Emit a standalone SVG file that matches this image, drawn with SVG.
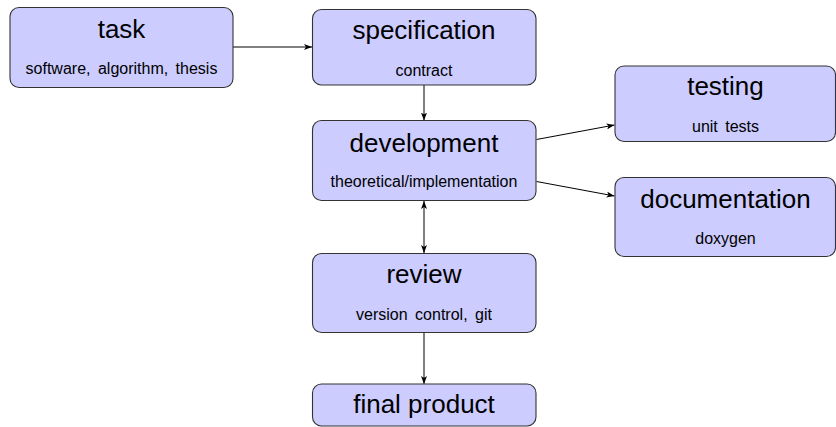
<svg xmlns="http://www.w3.org/2000/svg" width="836" height="427" viewBox="0 0 836 427">
<style>
.box{fill:#ccccff;stroke:#333333;stroke-width:1.1}
.t{font-family:"Liberation Sans",Arial,sans-serif;font-size:26px;fill:#000;text-anchor:middle}
.s{font-family:"Liberation Sans",Arial,sans-serif;font-size:16px;fill:#000;text-anchor:middle;word-spacing:3px}
.c{stroke:#000;stroke-width:1;fill:none}
</style>
<defs>
<marker id="ah" viewBox="0 0 8 6" refX="8" refY="3" markerWidth="8" markerHeight="6" markerUnits="userSpaceOnUse" orient="auto-start-reverse">
<path d="M0,0 L8,3 L0,6 L2,3 z" fill="#000"/>
</marker>
</defs>
<rect width="836" height="427" fill="#fff"/>
<g id="connectors">
<line class="c" x1="233" y1="47" x2="312" y2="47" marker-end="url(#ah)"/>
<line class="c" x1="424" y1="85" x2="424" y2="120.5" marker-end="url(#ah)"/>
<line class="c" x1="536.5" y1="139.5" x2="614.5" y2="125" marker-end="url(#ah)"/>
<line class="c" x1="536.5" y1="181.5" x2="614.5" y2="196" marker-end="url(#ah)"/>
<line class="c" x1="424" y1="201" x2="424" y2="253" marker-start="url(#ah)" marker-end="url(#ah)"/>
<line class="c" x1="424" y1="332.5" x2="424" y2="384" marker-end="url(#ah)"/>
</g>
<g id="task">
<rect class="box" x="10" y="7.5" width="223" height="80" rx="9"/>
<text class="t" x="121.5" y="38">task</text>
<text class="s" x="121.5" y="74">software, algorithm, thesis</text>
</g>
<g id="specification">
<rect class="box" x="312.5" y="9.5" width="223.5" height="75.5" rx="9"/>
<text class="t" x="424" y="39">specification</text>
<text class="s" x="424" y="76">contract</text>
</g>
<g id="development">
<rect class="box" x="312.5" y="120.5" width="223.5" height="80" rx="9"/>
<text class="t" x="424" y="151.5">development</text>
<text class="s" x="424" y="187">theoretical/implementation</text>
</g>
<g id="testing">
<rect class="box" x="615" y="66" width="220.5" height="75.5" rx="9"/>
<text class="t" x="725.5" y="95">testing</text>
<text class="s" x="725.5" y="131.5">unit tests</text>
</g>
<g id="documentation">
<rect class="box" x="615" y="177.5" width="220.5" height="79" rx="9"/>
<text class="t" x="725.5" y="208">documentation</text>
<text class="s" x="725.5" y="244">doxygen</text>
</g>
<g id="review">
<rect class="box" x="312.5" y="253.5" width="223.5" height="79" rx="9"/>
<text class="t" x="424" y="283">review</text>
<text class="s" x="424" y="320">version control, git</text>
</g>
<g id="final">
<rect class="box" x="312.5" y="384" width="223.5" height="42" rx="9"/>
<text class="t" x="424" y="413">final product</text>
</g>
</svg>
